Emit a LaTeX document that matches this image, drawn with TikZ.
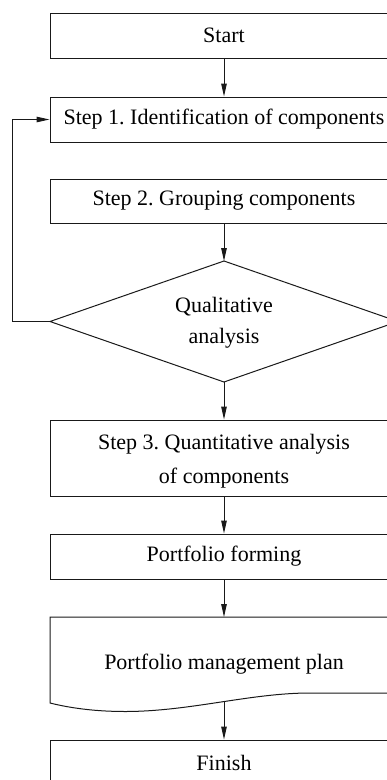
\documentclass[tikz,border=0pt]{standalone}
\usepackage{fontspec}
\setmainfont{Liberation Serif}
\usetikzlibrary{arrows.meta}
\begin{document}
\frenchspacing
\begin{tikzpicture}[x=1pt,y=-1pt,
  every node/.style={font=\fontsize{22}{31}\selectfont, text=black},
  box/.style={draw=black!90, line width=1pt, minimum width=348pt, inner sep=0pt, align=center},
  flow/.style={draw=black!90, line width=1pt, -{Triangle[length=13pt,width=5.5pt]}},
  line/.style={draw=black!90, line width=1pt}]
\useasboundingbox (0,0) rectangle (387,780);
\clip (0,0) rectangle (387,780);
\node[box, minimum height=45pt] (start) at (224,35.5) {Start};
\node[box, minimum height=45pt] (s1) at (224,119.5) {Step 1. Identification of components};
\node[box, minimum height=44pt] (s2) at (224,201) {Step 2. Grouping components};
\coordinate (qt) at (224,261);
\coordinate (qb) at (224,382);
\coordinate (qw) at (50,321.5);
\coordinate (qe) at (398,321.5);
\draw[line] (qw) -- (qt) -- (qe) -- (qb) -- cycle;
\node[align=center, inner sep=0pt] (qa) at (224,323) {Qualitative\\analysis};
\node[box, minimum height=76pt, font=\fontsize{22}{34}\selectfont] (s3) at (224,458) {\rule{0pt}{22.5pt}Step 3. Quantitative analysis\\of components};
\node[box, minimum height=45pt] (pf) at (224,556.5) {Portfolio forming};
\coordinate (plant) at (224,617);
\node[minimum width=348pt, minimum height=60pt, inner sep=0pt] (plan) at (224,664) {Portfolio management plan};
\draw[line] (50,617) -- (398,617) -- (398,693) -- (310,693)
  .. controls (250,693) and (190,711.5) .. (125,711.5)
  .. controls (95,711.5) and (70,708) .. (50,703) -- cycle;
\coordinate (planb) at (224,702);
\node[box, minimum height=45pt] (fin) at (224,762.5) {Finish};
\draw[flow] (start) -- (s1);
\draw[flow] (s2) -- (qt);
\draw[flow] (qb) -- (s3);
\draw[flow] (s3) -- (pf);
\draw[flow] (pf) -- (plant);
\draw[flow] (planb) -- (fin);
\coordinate (lp) at (12,321.5);
\draw[flow] (qw) -- (lp) |- (s1.west);
\end{tikzpicture}
\end{document}
